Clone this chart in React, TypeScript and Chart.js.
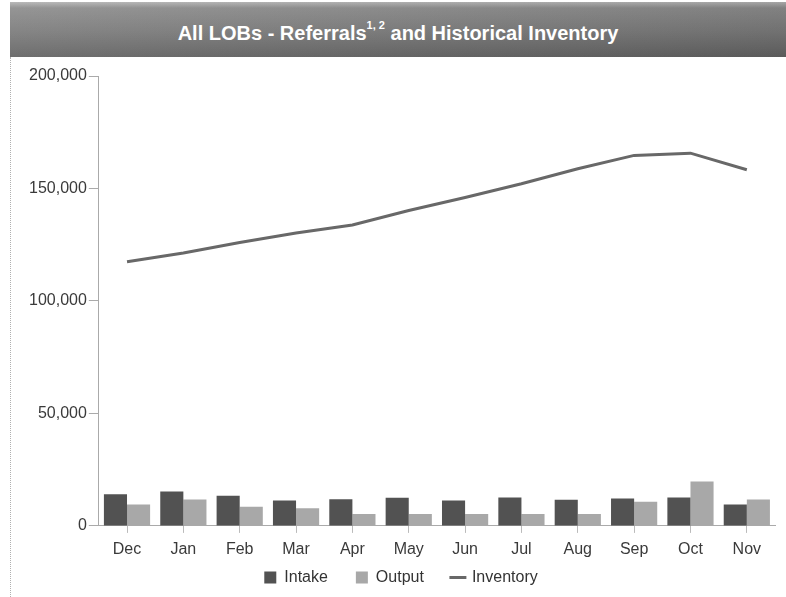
import React, { useEffect, useRef } from "react";
import { Chart, registerables } from "chart.js";

Chart.register(...registerables);

const months = ["Dec", "Jan", "Feb", "Mar", "Apr", "May", "Jun", "Jul", "Aug", "Sep", "Oct", "Nov"];
const intake = [14100, 15300, 13400, 11300, 11800, 12500, 11300, 12600, 11600, 12200, 12600, 9500];
const output = [9500, 11700, 8500, 7800, 5300, 5300, 5300, 5300, 5300, 10700, 19700, 11700];
const inventory = [117400, 121300, 126000, 130200, 133800, 140200, 146000, 152100, 158800, 164700, 165700, 158300];
const yMax = 200000;
const yStep = 50000;

const FONT = "'Liberation Sans', Arial, sans-serif";

export default function App() {
  const ref = useRef<HTMLCanvasElement | null>(null);

  useEffect(() => {
    if (!ref.current) return;
    const chart = new Chart(ref.current, {
      data: {
        labels: months,
        datasets: [
          {
            type: "line",
            label: "Inventory",
            data: inventory,
            borderColor: "#686868",
            backgroundColor: "#686868",
            borderWidth: 3,
            pointRadius: 0,
            tension: 0,
            order: 0,
            pointStyle: "line",
          } as any,
          {
            type: "bar",
            label: "Intake",
            data: intake,
            backgroundColor: "#525252",
            borderWidth: 0,
            categoryPercentage: 0.82,
            barPercentage: 1,
            order: 1,
            pointStyle: "rect",
          } as any,
          {
            type: "bar",
            label: "Output",
            data: output,
            backgroundColor: "#a8a8a8",
            borderWidth: 0,
            categoryPercentage: 0.82,
            barPercentage: 1,
            order: 2,
            pointStyle: "rect",
          } as any,
        ],
      },
      options: {
        animation: false,
        responsive: false,
        maintainAspectRatio: false,
        layout: { padding: { top: 76, left: 27, right: 11, bottom: 1.5 } },
        plugins: {
          title: { display: false },
          tooltip: { enabled: false },
          legend: {
            position: "bottom",
            title: { display: true, text: "", font: { size: 12 }, padding: { top: -19.5, bottom: -19.5 } },
            labels: {
              usePointStyle: true,
              boxHeight: 12,
              boxWidth: 12,
              padding: 28,
              color: "#333",
              font: { family: FONT, size: 16 },
              sort: (a: any, b: any) => {
                const ord = ["Intake", "Output", "Inventory"];
                return ord.indexOf(a.text) - ord.indexOf(b.text);
              },
            },
          },
        },
        scales: {
          x: {
            type: "category",
            offset: true,
            grid: {
              offset: false,
              drawOnChartArea: false,
              drawTicks: true,
              tickLength: 7,
              color: "#bbbbbb",
            },
            border: { display: true, color: "#aaaaaa" },
            ticks: {
              color: "#3a3a3a",
              padding: 7,
              font: { family: FONT, size: 16 },
              maxRotation: 0,
            },
          },
          y: {
            type: "linear",
            min: 0,
            max: yMax,
            grid: {
              drawOnChartArea: false,
              drawTicks: true,
              tickLength: 10,
              color: "#aaaaaa",
            },
            border: { display: true, color: "#aaaaaa" },
            ticks: {
              stepSize: yStep,
              color: "#3a3a3a",
              padding: 2,
              font: { family: FONT, size: 16 },
            },
          },
        },
      },
    });
    return () => chart.destroy();
  }, []);

  return (
    <div style={{ position: "fixed", left: 0, top: 0, width: 786, height: 597, background: "#fff", overflow: "hidden" }}>
      <div
        style={{
          position: "absolute",
          left: 10,
          top: 57,
          width: 0,
          height: 540,
          borderLeft: "1px dotted #b0b0b0",
        }}
      />
      <canvas ref={ref} width={786} height={597} style={{ position: "absolute", left: 0, top: 0, width: 786, height: 597 }} />
      <div
        style={{
          position: "absolute",
          left: 10,
          top: 2,
          width: 776,
          height: 55,
          boxSizing: "border-box",
          paddingTop: 7,
          background:
            "linear-gradient(to right, rgba(255,255,255,0.08), rgba(0,0,0,0.08)), linear-gradient(to bottom, #b4b4b4 0px, #8c8c8c 6px, #7a7a7a 30px, #626262 55px)",
          color: "#fff",
          fontFamily: FONT,
          fontWeight: "bold",
          fontSize: 20,
          display: "flex",
          alignItems: "center",
          justifyContent: "center",
          whiteSpace: "nowrap",
        }}
      >
        <span>
          All LOBs - Referrals<sup style={{ fontSize: 11, verticalAlign: "top", position: "relative", top: -3 }}>1, 2</sup> and Historical Inventory
        </span>
      </div>
    </div>
  );
}
